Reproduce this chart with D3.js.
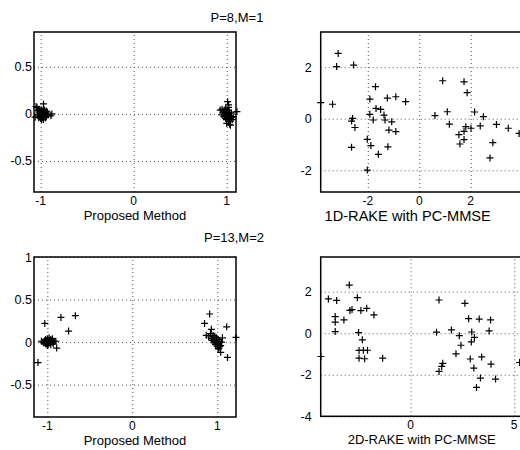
<!DOCTYPE html>
<html>
<head>
<meta charset="utf-8">
<script src="https://cdn.jsdelivr.net/npm/d3@7"></script>
<style>
  body { margin: 0; background: #fff; }
  svg { font-family: "Liberation Sans", Arial, sans-serif; }
  .grid line { stroke: #555; stroke-dasharray: 1,3; stroke-width: 1; }
  .grid path { display: none; }
</style>
</head>
<body>
<div id="chart"></div>
<script>
// ---- data ----
// P=8,M=1, proposed method
const propA = [
  [-1.04, 0.07], [-0.97, 0.106], [-1.06, -0.035], [-0.89, -0.02], [-1.05, 0.078], [-0.88, 0.0],
  [-1.02, 0.03], [-1.0, 0.0], [-0.98, 0.02], [-0.96, -0.01], [-1.01, -0.03], [-0.99, 0.04],
  [-0.97, 0.03], [-1.03, -0.01], [-0.95, 0.01], [-0.94, -0.03], [-1.0, -0.05], [-0.98, -0.04],
  [-1.02, 0.01], [-0.96, 0.04], [-0.99, -0.02], [-1.01, 0.05], [-0.97, -0.06], [-0.93, 0.02],
  [-1.03, 0.04], [-0.95, -0.04], [-1.0, 0.02], [-0.98, 0.0], [-1.01, -0.01], [-0.96, 0.0],
  [-0.99, -0.06], [-0.94, 0.03], [-1.02, -0.04], [-0.97, 0.05], [-0.92, -0.01],
  [1.01, 0.13], [1.11, 0.025], [0.93, 0.04], [1.04, -0.08], [1.02, 0.096], [0.95, 0.05],
  [0.97, 0.03], [0.99, 0.06], [1.0, 0.02], [1.02, 0.0], [0.98, -0.01], [1.01, -0.03],
  [1.03, -0.05], [0.96, 0.01], [1.0, -0.06], [1.04, -0.02], [0.99, 0.0], [1.02, -0.08],
  [1.05, -0.04], [0.97, -0.03], [1.01, 0.04], [1.03, 0.02], [0.98, 0.04], [1.0, -0.1],
  [1.03, -0.11], [1.06, -0.06], [0.95, -0.01], [1.02, 0.07], [0.99, -0.05], [1.05, 0.01],
  [1.04, -0.12], [1.07, -0.03]
];
// P=8,M=1, 1D-RAKE with PC-MMSE
const rakeA = [
  [-3.15, 2.53], [-3.21, 2.02], [-2.55, 2.08], [-3.83, 0.62], [-3.37, 0.56], [-1.70, 1.24],
  [-1.92, 0.76], [-1.24, 0.80], [-0.91, 0.85], [-0.53, 0.66], [-1.68, 0.40], [-1.50, 0.36],
  [-1.92, 0.17], [-1.79, -0.05], [-1.37, 0.14], [-1.33, -0.05], [-1.07, -0.12], [-1.18, -0.44],
  [-0.91, -0.50], [-2.59, 0.01], [-2.63, -0.09], [-2.50, -0.34], [-2.63, -1.11], [-2.02, -0.80],
  [-1.88, -1.04], [-1.59, -1.38], [-2.02, -1.99], [-1.22, -1.09],
  [0.61, 0.12], [0.91, 1.47], [1.09, 0.27], [1.17, -0.21], [1.74, 1.43], [1.86, 1.01],
  [2.15, 0.26], [2.49, 0.08], [2.37, -0.28], [1.81, -0.31], [2.01, -0.37], [1.74, -0.49],
  [1.54, -0.62], [1.58, -0.98], [1.74, -0.81], [3.0, -0.22], [3.46, -0.37], [2.86, -0.93],
  [2.75, -1.52], [3.88, -0.57]
];
// P=13,M=2, proposed method
const propB = [
  [-1.03, 0.22], [-0.84, 0.29], [-0.67, 0.31], [-0.75, 0.13], [-0.89, -0.07], [-1.11, -0.24],
  [-0.90, 0.01], [-1.05, 0.0], [-1.03, 0.02], [-1.0, 0.04], [-0.98, 0.01], [-0.96, 0.03],
  [-0.94, 0.0], [-1.02, -0.02], [-0.99, -0.03], [-0.97, -0.01], [-0.95, 0.02], [-1.01, 0.01],
  [-1.04, -0.01], [-0.93, -0.02], [-1.0, -0.04], [-0.98, 0.05], [-0.96, -0.03], [-1.02, 0.03],
  [-0.92, 0.01], [-1.07, 0.01], [-0.99, 0.0], [-0.97, 0.02], [-1.01, -0.02], [-0.94, 0.04],
  [0.91, 0.33], [0.85, 0.22], [0.93, 0.15], [1.11, 0.18], [1.22, 0.055], [1.04, -0.12],
  [1.12, -0.18], [0.87, 0.08], [1.06, 0.05], [0.90, 0.06], [0.93, 0.04], [0.95, 0.08],
  [0.97, 0.02], [0.99, 0.05], [1.0, 0.0], [1.02, -0.02], [0.96, 0.0], [0.98, -0.03],
  [1.01, 0.03], [1.03, 0.01], [0.94, 0.02], [1.0, -0.05], [1.04, -0.04], [1.02, -0.07],
  [0.97, 0.07], [1.05, 0.0], [0.99, -0.01], [1.01, -0.08], [0.92, 0.1], [1.03, -0.05]
];
// P=13,M=2, 2D-RAKE with PC-MMSE
const rakeB = [
  [-2.96, 2.32], [-3.97, 1.65], [-3.57, 1.58], [-2.57, 1.71], [-2.93, 1.10], [-2.83, 1.14],
  [-2.40, 1.09], [-2.12, 1.20], [-1.77, 0.88], [-3.64, 0.80], [-3.64, 0.53], [-3.22, 0.64],
  [-3.64, 0.08], [-2.51, 0.03], [-2.33, -0.32], [-2.49, -0.83], [-2.28, -0.82], [-2.08, -0.82],
  [-2.49, -1.20], [-2.22, -1.23], [-1.35, -1.20], [-4.33, -1.12],
  [1.37, 1.60], [2.62, 1.44], [1.25, 0.05], [1.97, 0.16], [2.35, -0.12], [2.43, -0.58],
  [2.19, -0.99], [1.55, -1.45], [1.50, -1.60], [1.37, -1.84], [2.80, 0.70], [3.31, 0.68],
  [3.86, 0.64], [2.95, 0.06], [2.93, -0.42], [3.08, -0.20], [3.79, 0.11], [2.88, -1.24],
  [3.43, -1.14], [3.05, -1.68], [3.37, -2.16], [3.18, -2.61], [3.88, -1.49], [4.10, -2.21],
  [5.26, -1.41]
];

const panels = [
  { pts: propA, x: [-1.072, 1.1], y: [-0.83, 0.87], xt: [-1, 0, 1], yt: [-0.5, 0, 0.5],
    label: "Proposed Method", left: 34, top: 32, w: 202, h: 160, labelSize: 13, labelX: 101, labelY: 27.5, gap: 2 },
  { pts: rakeA, x: [-3.83, 4.02], y: [-2.84, 3.36], xt: [-2, 0, 2], yt: [-2, 0, 2],
    label: "1D-RAKE with PC-MMSE", left: 320.7, top: 32, w: 202, h: 160, labelSize: 14.6, labelX: 87, labelY: 29, gap: 9 },
  { pts: propB, x: [-1.157, 1.22], y: [-0.88, 1], xt: [-1, 0, 1], yt: [-0.5, 0, 0.5, 1],
    label: "Proposed Method", left: 34, top: 257, w: 202, h: 160, labelSize: 13, labelX: 101, labelY: 27.5, gap: 2 },
  { pts: rakeB, x: [-4.34, 5.41], y: [-4, 3.67], xt: [0, 5], yt: [-4, -2, 0, 2],
    label: "2D-RAKE with PC-MMSE", left: 320.7, top: 257, w: 202, h: 159.3, labelSize: 13, labelX: 101, labelY: 27.5, gap: 9 }
];

const titles = [
  { text: "P=8,M=1", x: 237, y: 21.5 },
  { text: "P=13,M=2", x: 234, y: 242 }
];

const svg = d3.select("#chart").append("svg").attr("width", 520).attr("height", 450);

panels.forEach((p) => {
  const g = svg.append("g").attr("transform", `translate(${p.left},${p.top})`);
  const xs = d3.scaleLinear().domain(p.x).range([0, p.w]);
  const ys = d3.scaleLinear().domain(p.y).range([p.h, 0]);

  // dotted grid
  g.append("g").attr("class", "grid")
    .attr("transform", `translate(0,${p.h})`)
    .call(d3.axisBottom(xs).tickValues(p.xt).tickSize(-p.h).tickFormat(""));
  g.append("g").attr("class", "grid")
    .call(d3.axisLeft(ys).tickValues(p.yt).tickSize(-p.w).tickFormat(""));

  // frame
  g.append("rect").attr("width", p.w).attr("height", p.h)
    .attr("fill", "none").attr("stroke", "#000").attr("stroke-width", 1.5);

  // tick labels
  g.selectAll(".xl").data(p.xt).join("text")
    .attr("x", (d) => xs(d)).attr("y", p.h + 13)
    .attr("text-anchor", "middle").attr("font-size", 12)
    .text((d) => String(d));
  g.selectAll(".yl").data(p.yt).join("text")
    .attr("x", -p.gap).attr("y", (d) => ys(d) + 4.5)
    .attr("text-anchor", "end").attr("font-size", 12.5)
    .text((d) => String(d));

  // x label
  g.append("text").attr("x", p.labelX).attr("y", p.h + p.labelY)
    .attr("text-anchor", "middle").attr("font-size", p.labelSize)
    .text(p.label);

  // markers
  g.append("g").selectAll("path").data(p.pts).join("path")
    .attr("transform", (d) => `translate(${xs(d[0])},${ys(d[1])})`)
    .attr("d", "M-3.5,0H3.5M0,-3.5V3.5")
    .attr("stroke", "#000").attr("stroke-width", 1.2).attr("fill", "none");
});

svg.selectAll(".title").data(titles).join("text")
  .attr("x", (d) => d.x).attr("y", (d) => d.y)
  .attr("text-anchor", "middle").attr("font-size", 13)
  .text((d) => d.text);
</script>
</body>
</html>
